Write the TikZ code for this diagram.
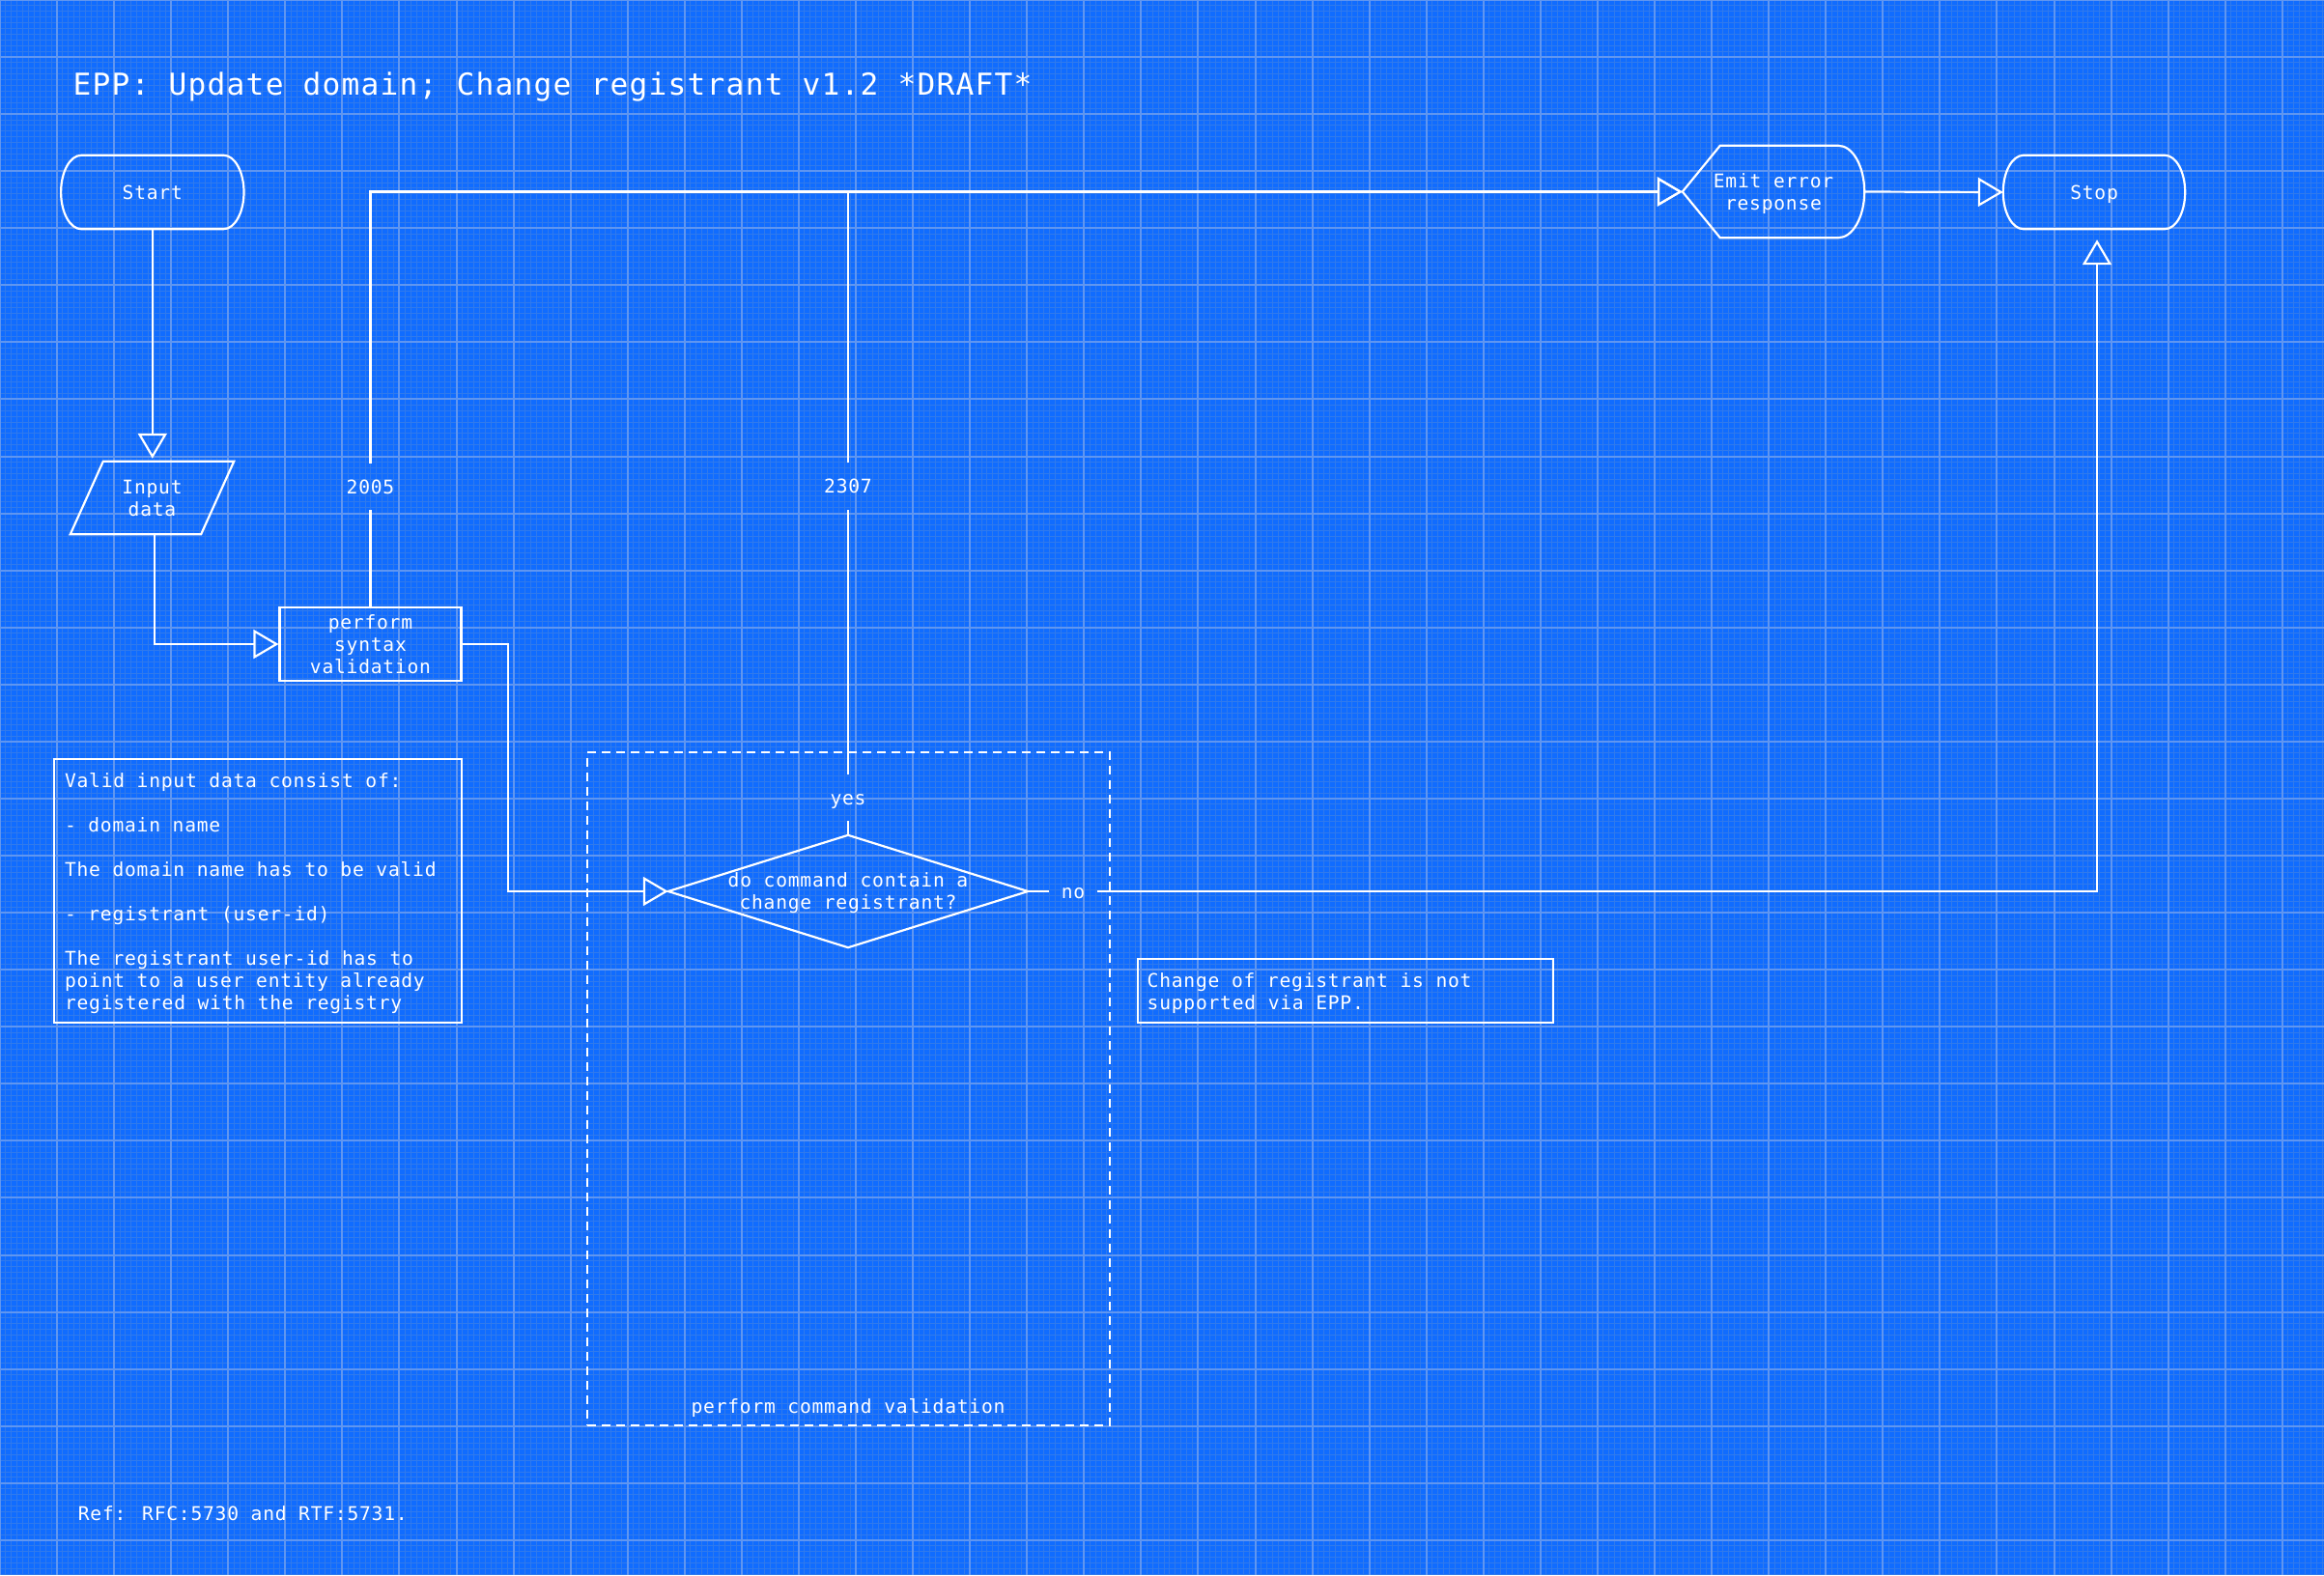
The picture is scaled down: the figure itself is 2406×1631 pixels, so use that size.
\documentclass[tikz,border=0pt]{standalone}
\usepackage{fontspec}
\newfontfamily\dmono[LetterSpace=4.0]{DejaVu Sans Mono}
\usetikzlibrary{arrows.meta}
\setlength\parindent{0pt}
\newcommand\ls{\rule[-0.21em]{0pt}{1.14em}}
\definecolor{bpbg}{RGB}{16,108,255}
\definecolor{bpminor}{RGB}{48,122,236}
\definecolor{bpmajor}{RGB}{96,150,240}
\newcommand\drawterminal[1]{\draw[wl] ([xshift=21pt]#1.north west) -- ([xshift=-21pt]#1.north east) .. controls +(11.6,0) and +(0,-21) .. (#1.east) .. controls +(0,21) and +(11.6,0) .. ([xshift=-21pt]#1.south east) -- ([xshift=21pt]#1.south west) .. controls +(-11.6,0) and +(0,21) .. (#1.west) .. controls +(0,-21) and +(-11.6,0) .. ([xshift=21pt]#1.north west) -- cycle;}
\begin{document}
\begin{tikzpicture}[x=1pt,y=-1pt,
  wl/.style={draw=white,line width=2.2pt},
  arr/.style={wl,-{Triangle[open,length=26pt,width=30pt]}},
  txt/.style={font=\dmono\fontsize{19.6}{23}\selectfont,text=white,inner sep=0pt},
  shapebox/.style={txt,align=center},
  lbl/.style={txt,minimum height=48pt},
  notebox/.style={wl,inner sep=0pt},
  notetext/.style={txt,align=left,anchor=west},
  group/.style={draw=white,line width=2.2pt,dash pattern=on 9pt off 6pt,inner sep=0pt}
]
\fill[bpbg] (0,0) rectangle (2406,1631);
\useasboundingbox (0,0) rectangle (2406,1631);
\foreach \i in {0,...,407} \draw[bpminor,line width=1pt] ({\i*5.907},0) -- ({\i*5.907},1631);
\foreach \j in {0,...,276} \draw[bpminor,line width=1pt] (0,{\j*5.907}) -- (2406,{\j*5.907});
\foreach \i in {0,...,40} \draw[bpmajor,line width=2pt] ({\i*59.07},0) -- ({\i*59.07},1631);
\foreach \j in {0,...,27} \draw[bpmajor,line width=2pt] (0,{\j*59.07}) -- (2406,{\j*59.07});

% title and footnote
\node[txt,anchor=west,font=\dmono\fontsize{31.2}{36}\selectfont] (title) at (75.5,87.7) {\ls EPP: Update domain; Change registrant v1.2 *DRAFT*};
\node[txt,anchor=west] (ref) at (80.7,1567.5) {\ls Ref: RFC:5730 and RTF:5731.};

% container
\node[group,minimum width=541pt,minimum height=697pt] (cmdval) at (878.5,1127.5) {};
\node[txt] (cmdlabel) at (878,1456.5) {\ls perform command validation};

% shapes
\node[shapebox,minimum width=189pt,minimum height=76pt] (start) at (157.8,199) {\ls Start};
\node[shapebox,minimum width=188pt,minimum height=76pt] (stop) at (2168,199) {\ls Stop};
\node[shapebox,minimum width=169pt,minimum height=75pt] (input) at (157.5,515.5) {\ls Input\\\ls data};
\node[shapebox,wl,minimum width=188pt,minimum height=76pt] (syntax) at (383.5,667) {\ls perform\\\ls syntax\\\ls validation};
\node[shapebox,minimum width=188pt,minimum height=95pt] (emit) at (1836,198.5) {\ls Emit error\\\ls response};
\node[shapebox,minimum width=372pt,minimum height=116pt] (decision) at (878,923) {\ls do command contain a\\\ls change registrant?};

\drawterminal{start}
\drawterminal{stop}
\draw[wl] ([xshift=34pt]input.north west) -- (input.north east) -- ([xshift=-34pt]input.south east) -- (input.south west) -- cycle;
\draw[wl] (emit.west) -- ([xshift=39pt]emit.north west) -- ([xshift=-27pt]emit.north east) .. controls +(14.9,0) and +(0,-26.2) .. (emit.east) .. controls +(0,26.2) and +(14.9,0) .. ([xshift=-27pt]emit.south east) -- ([xshift=39pt]emit.south west) -- cycle;
\draw[wl] (decision.north) -- (decision.east) -- (decision.south) -- (decision.west) -- cycle;

% notes
\node[notebox,minimum width=422pt,minimum height=273pt] (validnote) at (267,922.5) {};
\node[notetext] (validtext) at (66.8,923.5) {\ls Valid input data consist of:\\\ls\\\ls - domain name\\\ls\\\ls The domain name has to be valid\\\ls\\\ls - registrant (user-id)\\\ls\\\ls The registrant user-id has to\\\ls point to a user entity already\\\ls registered with the registry};
\node[notebox,minimum width=430pt,minimum height=66pt] (eppnote) at (1393,1026) {};
\node[notetext] (epptext) at (1187.5,1026.5) {\ls Change of registrant is not\\\ls supported via EPP.};

% connector labels
\node[lbl] (l2005) at (383.5,504) {\ls 2005};
\node[lbl] (l2307) at (878,503.5) {\ls 2307};
\node[lbl] (lyes) at (878,826) {\ls yes};
\node[lbl,minimum width=49pt] (lno) at (1111,923) {\ls no};

% connectors
\draw[arr,shorten >=3pt] (start.south) -- (start.south |- input.north);
\draw[arr] ([xshift=2.5pt]input.south) |- (syntax.west);
\draw[wl] (syntax.north) -- (l2005.south);
\draw[arr] (l2005.north) |- (emit.west);
\draw[wl] (decision.north) -- (lyes.south);
\draw[wl] (lyes.north) -- (l2307.south);
\draw[arr] (l2307.north) |- (emit.west);
\draw[arr] (syntax.east) -- ++(47,0) |- (decision.west);
\draw[wl] (decision.east) -- (lno.west);
\draw[arr,shorten >=11pt] (lno.east) -| ([xshift=3pt]stop.south);
\draw[arr] (emit.east) -- (stop.west);
\end{tikzpicture}
\end{document}
